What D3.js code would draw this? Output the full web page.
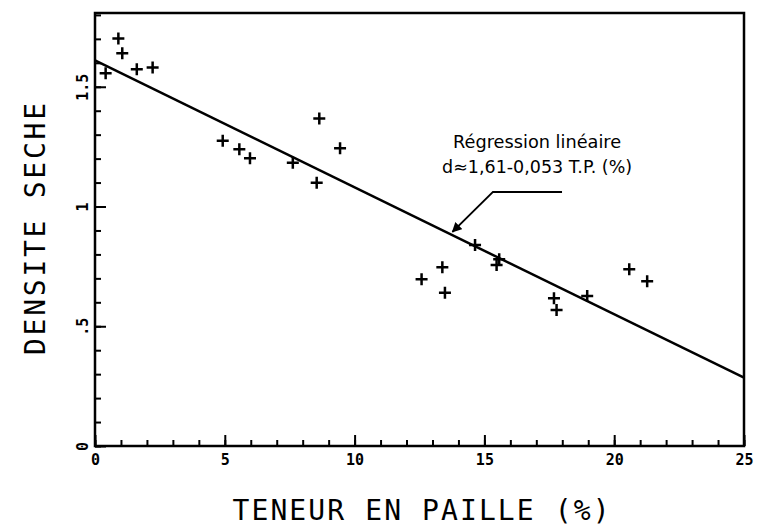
<!DOCTYPE html>
<html>
<head>
<meta charset="utf-8">
<script src="https://cdn.jsdelivr.net/npm/d3@7"></script>
<style>
  html, body { margin: 0; padding: 0; background: #fff; }
  svg { display: block; }
</style>
</head>
<body>
<div id="chart"></div>
<script>
// data
let teneurPaille = [0.90, 1.05, 0.41, 1.61, 2.22, 4.92, 5.56, 5.97, 7.62, 8.64, 9.44, 8.54,
                    12.58, 13.38, 13.48, 14.64, 15.57, 15.47, 17.68, 17.78, 18.96, 20.58, 21.27];
let densiteSeche = [1.702, 1.640, 1.556, 1.573, 1.580, 1.275, 1.239, 1.201, 1.183, 1.368, 1.243, 1.099,
                    0.696, 0.746, 0.640, 0.839, 0.780, 0.756, 0.617, 0.568, 0.626, 0.738, 0.688];
let regression = { intercept: 1.61, slope: -0.053 };
let xMajorTicks = [0, 5, 10, 15, 20, 25];
let xMinorTicks = d3.range(0, 26, 1);
let yMajorTicks = [0, 0.5, 1, 1.5];
let yTickLabels = ['0', '.5', '1', '1.5'];
let yMinorTicks = d3.range(0, 19, 1).map(v => v / 10);
let xTitle = 'TENEUR EN PAILLE (%)';
let yTitle = 'DENSITE SECHE';
let noteLines = ['Régression linéaire', 'd\u22481,61-0,053 T.P. (%)'];

let width = 757, height = 529;
let plot = { left: 95, right: 744, top: 13, bottom: 446 };

let svg = d3.select('#chart').append('svg')
            .attr('width', width)
            .attr('height', height);

let xScale = d3.scaleLinear().domain([0, 25]).range([plot.left, plot.right]);
let yScale = d3.scaleLinear().domain([0, 1.808]).range([plot.bottom, plot.top]);

let tickFont = '"DejaVu Sans Mono", monospace';

// minor x ticks (pointing inward)
svg.append('g')
   .attr('transform', `translate(0, ${plot.bottom})`)
   .call(d3.axisBottom(xScale).tickValues(xMinorTicks).tickSize(-6).tickFormat(''))
   .call(g => g.select('.domain').remove())
   .selectAll('line').attr('stroke-width', 2);

// major x ticks with labels
svg.append('g')
   .attr('transform', `translate(0, ${plot.bottom})`)
   .call(d3.axisBottom(xScale).tickValues(xMajorTicks).tickSize(-11).tickPadding(8).tickFormat(d3.format('d')))
   .call(g => g.select('.domain').remove())
   .call(g => g.selectAll('line').attr('stroke-width', 2))
   .selectAll('text')
   .style('font-family', tickFont)
   .style('font-weight', 'bold')
   .style('font-size', '15px')
   .attr('fill', '#000');

// minor y ticks
svg.append('g')
   .attr('transform', `translate(${plot.left}, 0)`)
   .call(d3.axisLeft(yScale).tickValues(yMinorTicks).tickSize(-6).tickFormat(''))
   .call(g => g.select('.domain').remove())
   .selectAll('line').attr('stroke-width', 2);

// major y ticks with rotated labels
svg.append('g')
   .attr('transform', `translate(${plot.left}, 0)`)
   .call(d3.axisLeft(yScale).tickValues(yMajorTicks).tickSize(-11).tickFormat((v, i) => yTickLabels[i]))
   .call(g => g.select('.domain').remove())
   .call(g => g.selectAll('line').attr('stroke-width', 2))
   .selectAll('text')
   .attr('transform', 'rotate(-90)')
   .attr('x', 0)
   .attr('y', -7)
   .attr('dy', 0)
   .style('text-anchor', 'middle')
   .style('font-family', tickFont)
   .style('font-weight', 'bold')
   .style('font-size', '15px')
   .attr('fill', '#000');

// frame
svg.append('rect')
   .attr('x', plot.left)
   .attr('y', plot.top)
   .attr('width', plot.right - plot.left)
   .attr('height', plot.bottom - plot.top)
   .attr('fill', 'none')
   .attr('stroke', '#000')
   .attr('stroke-width', 2.5);

// regression line
let xDomain = xScale.domain();
svg.append('line')
   .attr('x1', xScale(xDomain[0]))
   .attr('y1', yScale(regression.intercept + regression.slope * xDomain[0]))
   .attr('x2', xScale(xDomain[1]))
   .attr('y2', yScale(regression.intercept + regression.slope * xDomain[1]))
   .attr('stroke', '#000')
   .attr('stroke-width', 2.5);

// points as plus signs
svg.append('g')
   .selectAll('path')
   .data(teneurPaille.map((v, i) => [v, densiteSeche[i]]))
   .enter()
   .append('path')
   .attr('transform', d => `translate(${xScale(d[0])}, ${yScale(d[1])})`)
   .attr('d', 'M-6,0H6M0,-6V6')
   .attr('stroke', '#000')
   .attr('stroke-width', 2.5)
   .attr('fill', 'none');

// annotation with arrow
svg.append('defs').append('marker')
   .attr('id', 'arrowhead')
   .attr('viewBox', '0 0 10 10')
   .attr('refX', 9)
   .attr('refY', 5)
   .attr('markerWidth', 5)
   .attr('markerHeight', 5)
   .attr('orient', 'auto')
   .append('path')
   .attr('d', 'M0,0L10,5L0,10z')
   .attr('fill', '#000');

svg.append('path')
   .attr('d', d3.line()([[xScale(17.99), yScale(1.061)], [xScale(15.33), yScale(1.061)], [xScale(13.77), yScale(0.894)]]))
   .attr('fill', 'none')
   .attr('stroke', '#000')
   .attr('stroke-width', 2)
   .attr('marker-end', 'url(#arrowhead)');

svg.append('text')
   .attr('x', xScale(17.03))
   .attr('y', yScale(1.244))
   .attr('text-anchor', 'middle')
   .attr('textLength', 168)
   .attr('lengthAdjust', 'spacingAndGlyphs')
   .style('font-family', '"DejaVu Sans", sans-serif')
   .style('font-size', '17px')
   .text(noteLines[0]);

svg.append('text')
   .attr('x', xScale(17.03))
   .attr('y', yScale(1.140))
   .attr('text-anchor', 'middle')
   .attr('textLength', 190)
   .attr('lengthAdjust', 'spacingAndGlyphs')
   .style('font-family', '"DejaVu Sans", sans-serif')
   .style('font-size', '17px')
   .text(noteLines[1]);

// axis titles
svg.append('text')
   .attr('x', 421)
   .attr('y', 520)
   .attr('text-anchor', 'middle')
   .attr('textLength', 377)
   .attr('lengthAdjust', 'spacing')
   .style('font-family', tickFont)
   .style('font-size', '28px')
   .text(xTitle);

svg.append('text')
   .attr('transform', 'translate(45, 229) rotate(-90)')
   .attr('text-anchor', 'middle')
   .attr('textLength', 252)
   .attr('lengthAdjust', 'spacing')
   .style('font-family', tickFont)
   .style('font-size', '28px')
   .text(yTitle);
</script>
</body>
</html>
